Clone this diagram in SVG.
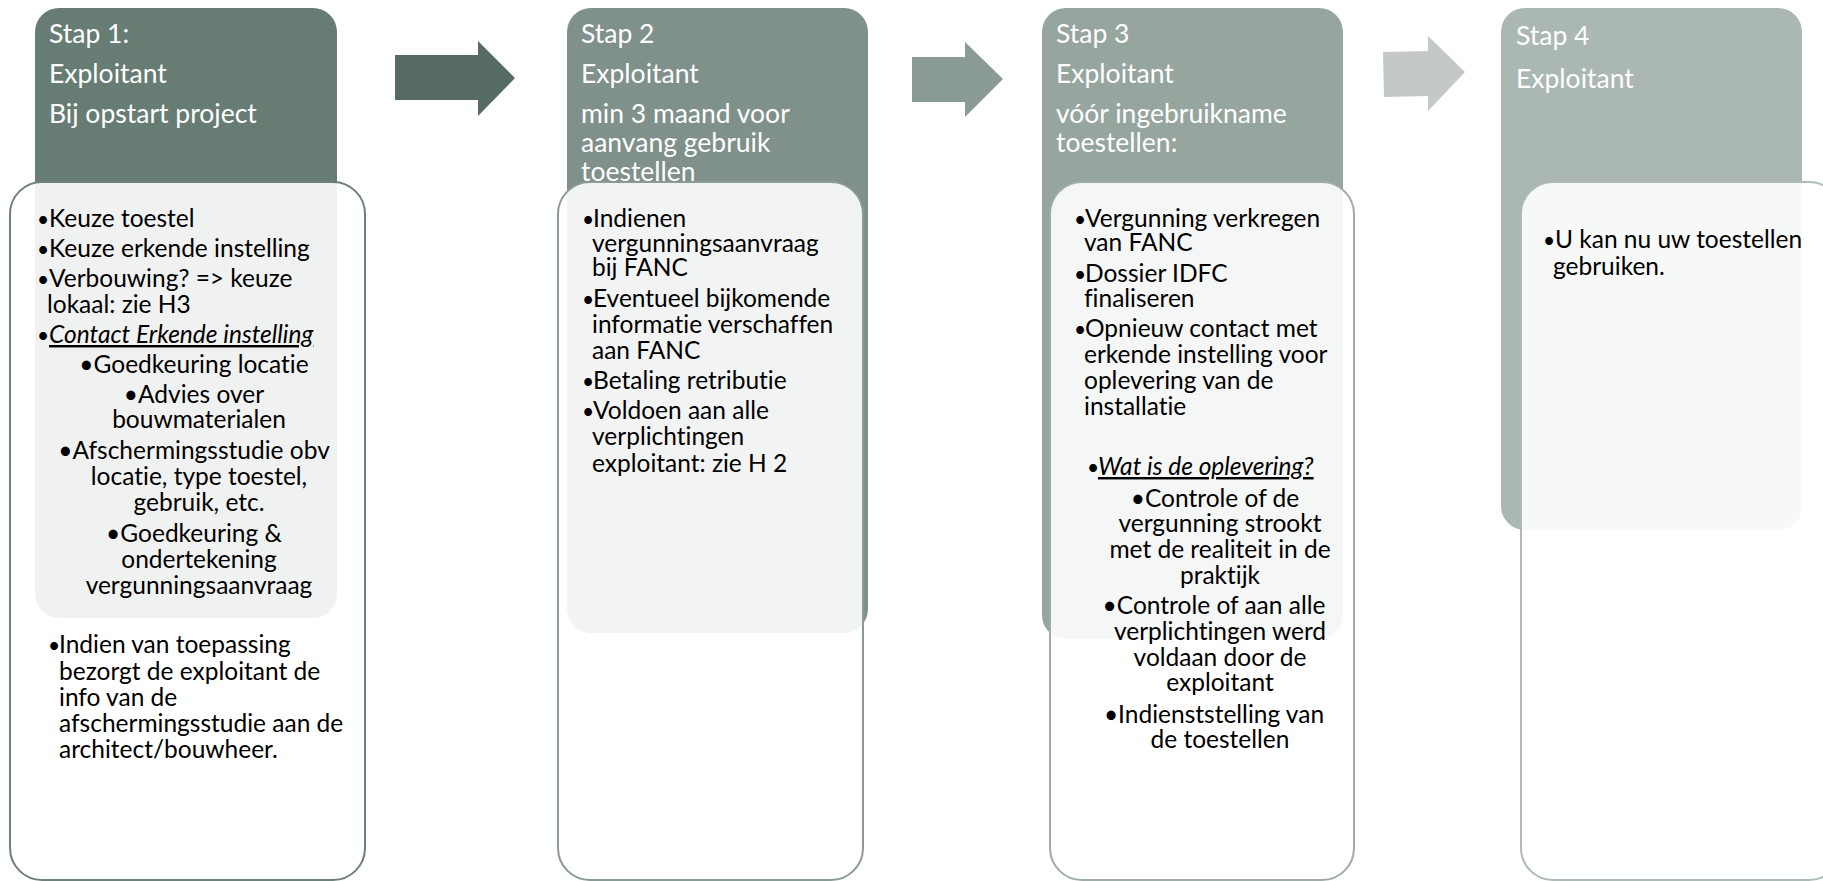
<svg xmlns="http://www.w3.org/2000/svg" width="1823" height="881" viewBox="0 0 1823 881">
<style>
text{font-variant-ligatures:none}
.hdr{fill:#ffffff;font-family:Lato,"Liberation Sans",sans-serif;font-size:26.5px}
.bd{fill:#000000;font-family:Lato,"Liberation Sans",sans-serif;font-size:24.5px}
.bl{font-size:21px}
.c{text-anchor:middle}
.it{font-style:italic;text-decoration:underline}
.box{fill:#ffffff;fill-opacity:0.9;stroke-width:2}
</style>
<rect width="1823" height="881" fill="#ffffff"/>
<g id="connectors">
<polygon points="395,55 478,55 478,41 515,78 478,116 478,100 395,100" fill="#566b61"/>
<polygon points="912,57 965,57 965,42 1003,79 965,117 965,102 912,102" fill="#8a9b94"/>
<polygon points="1383,52 1428,51 1428,36 1465,72 1428,111 1428,96 1384,97" fill="#c4c8c6"/>
</g>
<g id="step1">
<rect x="35" y="8" width="302" height="610" rx="24" fill="#677d74"/>
<text class="hdr" x="49" y="43">Stap 1:</text>
<text class="hdr" x="49" y="83">Exploitant</text>
<text class="hdr" x="49" y="123">Bij opstart project</text>
<rect class="box" x="10" y="182" width="355" height="698" rx="32" stroke="#6e8079"/>
<g class="bd">
<text y="227"><tspan class="bl" x="37">•</tspan><tspan x="49">Keuze toestel</tspan></text>
<text y="257"><tspan class="bl" x="37">•</tspan><tspan x="49">Keuze erkende instelling</tspan></text>
<text y="287"><tspan class="bl" x="37">•</tspan><tspan x="49">Verbouwing? =&gt; keuze</tspan><tspan x="47" dy="26">lokaal: zie H3</tspan></text>
<text y="343"><tspan class="bl" x="37">•</tspan><tspan x="49" class="it">Contact Erkende instelling</tspan></text>
<text class="c" x="194" y="373">•Goedkeuring locatie</text>
<text class="c" y="403"><tspan x="194">•Advies over</tspan><tspan x="199" dy="25">bouwmaterialen</tspan></text>
<text class="c" y="459"><tspan x="194">•Afschermingsstudie obv</tspan><tspan x="199" dy="26">locatie, type toestel,</tspan><tspan x="199" dy="26">gebruik, etc.</tspan></text>
<text class="c" y="542"><tspan x="194">•Goedkeuring &amp;</tspan><tspan x="199" dy="26">ondertekening</tspan><tspan x="199" dy="26">vergunningsaanvraag</tspan></text>
<text y="653"><tspan class="bl" x="48">•</tspan><tspan x="59">Indien van toepassing</tspan><tspan x="59" dy="27">bezorgt de exploitant de</tspan><tspan x="59" dy="26">info van de</tspan><tspan x="59" dy="26">afschermingsstudie aan de</tspan><tspan x="59" dy="26">architect/bouwheer.</tspan></text>
</g>
</g>
<g id="step2">
<rect x="567" y="8" width="301" height="625" rx="24" fill="#7f918a"/>
<text class="hdr" x="581" y="43">Stap 2</text>
<text class="hdr" x="581" y="83">Exploitant</text>
<text class="hdr" y="123"><tspan x="581">min 3 maand voor</tspan><tspan x="581" dy="29">aanvang gebruik</tspan><tspan x="581" dy="29">toestellen</tspan></text>
<rect class="box" x="558" y="182" width="305" height="698" rx="32" stroke="#8a9b94"/>
<g class="bd">
<text y="227"><tspan class="bl" x="582">•</tspan><tspan x="593">Indienen</tspan><tspan x="592" dy="25">vergunningsaanvraag</tspan><tspan x="592" dy="24">bij FANC</tspan></text>
<text y="307"><tspan class="bl" x="582">•</tspan><tspan x="593">Eventueel bijkomende</tspan><tspan x="592" dy="26">informatie verschaffen</tspan><tspan x="592" dy="26">aan FANC</tspan></text>
<text y="389"><tspan class="bl" x="582">•</tspan><tspan x="593">Betaling retributie</tspan></text>
<text y="419"><tspan class="bl" x="582">•</tspan><tspan x="593">Voldoen aan alle</tspan><tspan x="592" dy="26">verplichtingen</tspan><tspan x="592" dy="27">exploitant: zie H 2</tspan></text>
</g>
</g>
<g id="step3">
<rect x="1042" y="8" width="301" height="631" rx="24" fill="#97a59f"/>
<text class="hdr" x="1056" y="43">Stap 3</text>
<text class="hdr" x="1056" y="83">Exploitant</text>
<text class="hdr" y="123"><tspan x="1056">vóór ingebruikname</tspan><tspan x="1056" dy="29">toestellen:</tspan></text>
<rect class="box" x="1050" y="182" width="304" height="698" rx="32" stroke="#a0aca7"/>
<g class="bd">
<text y="227"><tspan class="bl" x="1074">•</tspan><tspan x="1085">Vergunning verkregen</tspan><tspan x="1084" dy="24">van FANC</tspan></text>
<text y="282"><tspan class="bl" x="1074">•</tspan><tspan x="1085">Dossier IDFC</tspan><tspan x="1084" dy="25">finaliseren</tspan></text>
<text y="337"><tspan class="bl" x="1074">•</tspan><tspan x="1085">Opnieuw contact met</tspan><tspan x="1084" dy="26">erkende instelling voor</tspan><tspan x="1084" dy="26">oplevering van de</tspan><tspan x="1084" dy="26">installatie</tspan></text>
<text y="475"><tspan class="bl" x="1087">•</tspan><tspan x="1098" class="it">Wat is de oplevering?</tspan></text>
<text class="c" y="507"><tspan x="1215">•Controle of de</tspan><tspan x="1220" dy="25">vergunning strookt</tspan><tspan x="1220" dy="26">met de realiteit in de</tspan><tspan x="1220" dy="26">praktijk</tspan></text>
<text class="c" y="614"><tspan x="1214">•Controle of aan alle</tspan><tspan x="1220" dy="26">verplichtingen werd</tspan><tspan x="1220" dy="26">voldaan door de</tspan><tspan x="1220" dy="25">exploitant</tspan></text>
<text class="c" y="723"><tspan x="1214">•Indienststelling van</tspan><tspan x="1220" dy="25">de toestellen</tspan></text>
</g>
</g>
<g id="step4">
<rect x="1501" y="8" width="301" height="522" rx="24" fill="#abb7b2"/>
<text class="hdr" x="1516" y="45">Stap 4</text>
<text class="hdr" x="1516" y="88">Exploitant</text>
<rect class="box" x="1521" y="182" width="320" height="698" rx="32" stroke="#aebab5"/>
<g class="bd">
<text y="248"><tspan class="bl" x="1543">•</tspan><tspan x="1555">U kan nu uw toestellen</tspan><tspan x="1553" dy="27">gebruiken.</tspan></text>
</g>
</g>
</svg>
